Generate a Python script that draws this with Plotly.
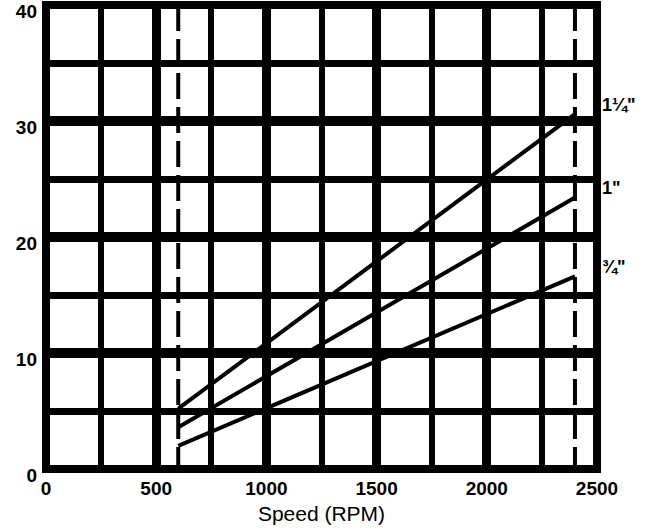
import plotly.graph_objects as go

# Operating speed range and the load for each shaft size at its ends
speed_rpm = [600, 2400]
size_labels = ['1¼"', '1"', '¾"']
load_1_25 = [5.2, 30.6]
load_1_00 = [3.6, 23.4]
load_0_75 = [2.0, 16.6]

# Speed limits marked with dashed verticals
speed_limits = [600, 2400]

x_ticks = [0, 500, 1000, 1500, 2000, 2500]
y_ticks = [0, 10, 20, 30, 40]

FONT = "Liberation Sans, Arial, sans-serif"

fig = go.Figure()

for lim in speed_limits:
    fig.add_trace(go.Scatter(
        x=[lim, lim], y=[40, 0], mode="lines",
        line=dict(color="black", width=4, dash="26px,8px"),
        hoverinfo="skip", showlegend=False, cliponaxis=False,
    ))

series = [load_1_25, load_1_00, load_0_75]
for label, vals in zip(size_labels, series):
    fig.add_trace(go.Scatter(
        x=speed_rpm, y=vals, mode="lines",
        line=dict(color="black", width=4),
        name=label, showlegend=False,
    ))
    # size label just right of the frame, a little above the line end
    fig.add_annotation(
        x=1, xref="paper", y=vals[-1] + 0.8, yref="y",
        text=f"<b>{label}</b>", showarrow=False,
        xanchor="left", yanchor="middle", xshift=3,
        font=dict(family=FONT, size=18, color="black"),
    )

# Heavy outer frame
fig.add_shape(type="rect", xref="paper", yref="paper", x0=0, x1=1, y0=0, y1=1,
              line=dict(color="black", width=8), layer="above")

fig.update_xaxes(
    range=[0, 2500], tickvals=x_ticks, showgrid=True, gridcolor="black", gridwidth=9,
    minor=dict(dtick=250, showgrid=True, gridcolor="black", gridwidth=6),
    zeroline=False, showline=False, ticks="", ticklabelstandoff=6, automargin=False,
    tickfont=dict(family=FONT, size=19, color="black", weight="bold"),
    title=dict(text="Speed (RPM)", font=dict(family=FONT, size=21, color="black"), standoff=8),
)
fig.update_yaxes(
    range=[0, 40], tickvals=y_ticks, showgrid=True, gridcolor="black", gridwidth=10,
    minor=dict(dtick=5, showgrid=True, gridcolor="black", gridwidth=7),
    zeroline=False, showline=False, ticks="", ticklabelstandoff=8, automargin=False,
    ticklabelshift=6, ticklabeloverflow="allow",
    tickfont=dict(family=FONT, size=19, color="black", weight="bold"),
)

fig.update_layout(
    width=647, height=532,
    margin=dict(l=46, r=50, t=5, b=63),
    paper_bgcolor="white", plot_bgcolor="white",
    showlegend=False,
)

fig.write_html("out.html")
